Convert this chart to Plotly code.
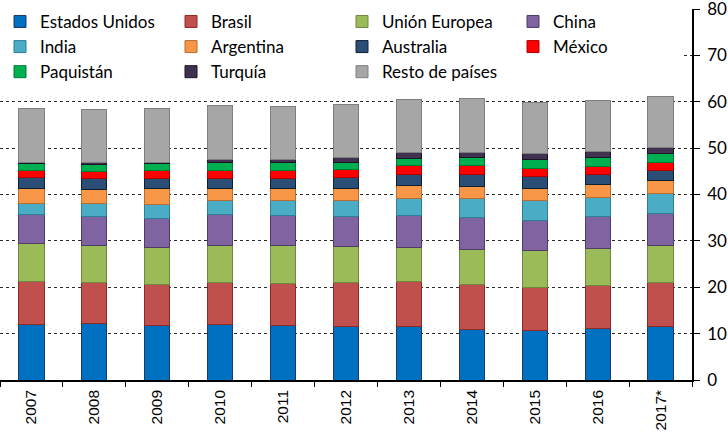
import plotly.graph_objects as go

years = ["2007", "2008", "2009", "2010", "2011", "2012", "2013", "2014", "2015", "2016", "2017*"]

estados_unidos = [11.9, 12.1, 11.7, 11.9, 11.8, 11.6, 11.6, 10.9, 10.6, 11.2, 11.6]
brasil = [9.3, 9.0, 8.9, 9.1, 9.1, 9.5, 9.7, 9.7, 9.4, 9.2, 9.4]
union_europea = [8.2, 8.0, 8.0, 8.1, 8.0, 7.6, 7.3, 7.5, 7.9, 8.0, 7.9]
china = [6.2, 6.1, 6.3, 6.5, 6.5, 6.6, 6.8, 6.9, 6.5, 6.8, 7.0]
india = [2.5, 2.8, 3.0, 3.2, 3.4, 3.5, 3.7, 4.1, 4.2, 4.2, 4.4]
argentina = [3.3, 3.1, 3.4, 2.6, 2.6, 2.6, 2.9, 2.7, 2.8, 2.7, 2.7]
australia = [2.2, 2.3, 2.1, 2.1, 2.0, 2.2, 2.4, 2.6, 2.5, 2.2, 2.1]
mexico = [1.5, 1.5, 1.7, 1.7, 1.8, 1.8, 1.8, 1.8, 1.8, 1.8, 1.8]
paquistan = [1.5, 1.5, 1.5, 1.6, 1.6, 1.6, 1.6, 1.7, 1.8, 1.8, 1.9]
turquia = [0.4, 0.4, 0.4, 0.7, 0.7, 1.0, 1.2, 1.1, 1.3, 1.3, 1.4]
resto = [11.5, 11.6, 11.5, 11.8, 11.4, 11.5, 11.5, 11.8, 11.0, 11.0, 10.9]

series = [
    ("Estados Unidos", estados_unidos, "#0070C0", "#1F3864"),
    ("Brasil", brasil, "#C0504D", "#8C2A28"),
    ("Unión Europea", union_europea, "#9BBB59", "#71893F"),
    ("China", china, "#8064A2", "#4F3D66"),
    ("India", india, "#4BACC6", "#2C7F94"),
    ("Argentina", argentina, "#F79646", "#B66D31"),
    ("Australia", australia, "#2B4E76", "#0F1F33"),
    ("México", mexico, "#FF0000", "#B00000"),
    ("Paquistán", paquistan, "#00B050", "#007A37"),
    ("Turquía", turquia, "#403151", "#1A1424"),
    ("Resto de países", resto, "#A6A6A6", "#7F7F7F"),
]

fig = go.Figure()
for name, vals, fill, edge in series:
    fig.add_trace(go.Bar(
        x=years, y=vals, name=name,
        marker=dict(color=fill, line=dict(color=edge, width=1)),
    ))

fig.update_layout(
    width=728, height=437,
    barmode="stack", bargap=0.6,
    plot_bgcolor="white", paper_bgcolor="white",
    margin=dict(l=0, r=36, t=9, b=57, autoexpand=False),
    font=dict(family="Lato", color="black"),
    legend=dict(
        orientation="h", x=0.0, xanchor="left",
        yref="container", y=0.991, yanchor="top",
        traceorder="normal", entrywidth=126, bgcolor="white",
        font=dict(family="Lato", size=17, color="black"),
        itemwidth=30, tracegroupgap=0,
    ),
    xaxis=dict(
        type="category", tickangle=-90, showgrid=False,
        showline=True, linecolor="black", linewidth=1.5,
        ticks="outside", tickson="boundaries", ticklen=5, tickcolor="black",
        ticklabelstandoff=2,
        tickfont=dict(family="Liberation Sans", size=15.5, color="black"),
    ),
    yaxis=dict(
        side="right", range=[0, 80], dtick=10,
        showline=True, linecolor="black", linewidth=1.5,
        ticks="outside", ticklen=6, tickcolor="black",
        ticklabelstandoff=4, ticklabeloverflow="allow",
        showgrid=True, gridcolor="#2a2a2a", griddash="3px,3px", gridwidth=1,
        zeroline=False,
        tickfont=dict(family="Lato", size=17, color="black"),
    ),
)

fig.write_html("out.html", config={"displayModeBar": False},
               post_script="document.body.style.margin='0';")
